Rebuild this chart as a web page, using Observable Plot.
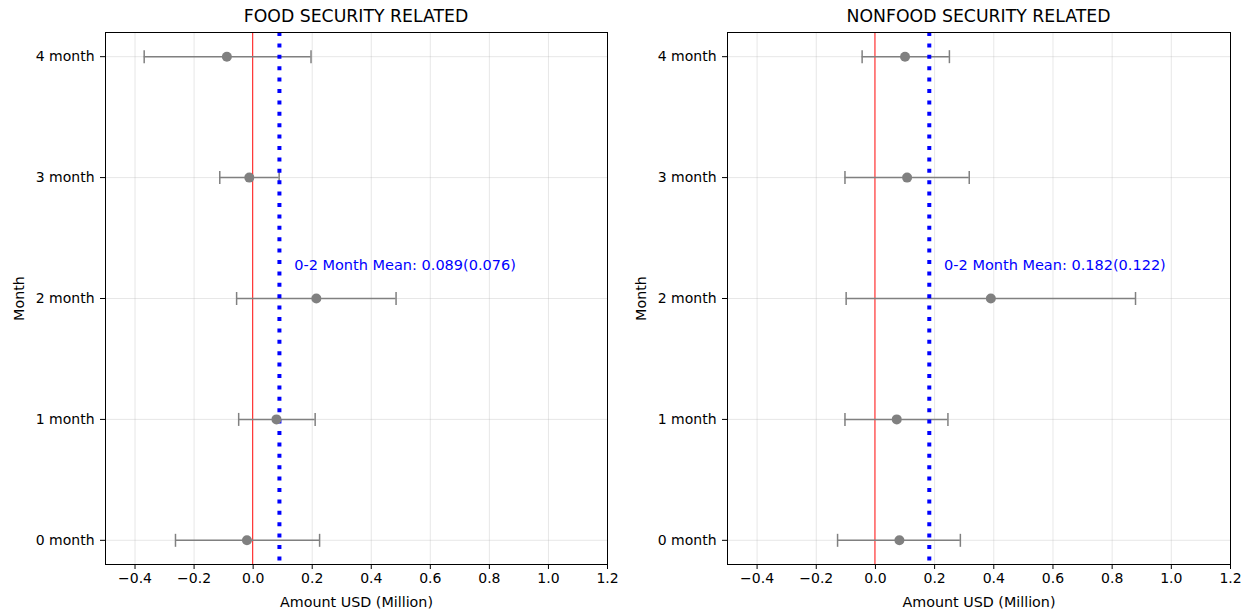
<!DOCTYPE html>
<html>
<head>
<meta charset="utf-8">
<script src="https://cdn.jsdelivr.net/npm/d3@7"></script>
<script src="https://cdn.jsdelivr.net/npm/@observablehq/plot@0.6"></script>
<style>
  body { margin: 0; background: #fff; font-family: "DejaVu Sans", sans-serif; }
  #wrap { display: flex; width: 1250px; height: 613px; overflow: hidden; }
  .panel { width: 625px; }
  .title { height: 28px; line-height: 33px; font-size: 17.3px; color: #000; text-align: center; white-space: nowrap; font-family: "DejaVu Sans"; }
</style>
</head>
<body>
<div id="wrap"></div>
<script>
// ---- data ----
const months = [0, 1, 2, 3, 4];
const monthLabels = ["0 month", "1 month", "2 month", "3 month", "4 month"];
const xTicks = [-0.4, -0.2, 0.0, 0.2, 0.4, 0.6, 0.8, 1.0, 1.2];

const foodEst = [-0.021, 0.079, 0.214, -0.013, -0.089];
const foodLo  = [-0.263, -0.049, -0.056, -0.113, -0.369];
const foodHi  = [0.225, 0.210, 0.484, 0.088, 0.196];

const nonfoodEst = [0.081, 0.072, 0.390, 0.107, 0.100];
const nonfoodLo  = [-0.128, -0.103, -0.099, -0.103, -0.045];
const nonfoodHi  = [0.287, 0.245, 0.879, 0.317, 0.250];

const panelTitles = ["FOOD SECURITY RELATED", "NONFOOD SECURITY RELATED"];
const meanValues = [0.089, 0.182];
const meanSEs = [0.076, 0.122];

// ---- drawing ----
const capSymbol = {
  draw(ctx, size) {
    const r = Math.sqrt(size / Math.PI);
    ctx.moveTo(0, -r);
    ctx.lineTo(0, r);
  }
};
const fmt = d3.format(".1f");

function panel(title, est, lo, hi, mean, se, marginLeft, marginRight) {
  const rows = months.map((m, i) => ({m, est: est[i], lo: lo[i], hi: hi[i]}));
  const div = document.createElement("div");
  div.className = "panel";
  const t = document.createElement("div");
  t.className = "title";
  t.style.paddingLeft = marginLeft + "px";
  t.style.paddingRight = marginRight + "px";
  t.textContent = title;
  div.appendChild(t);

  const chart = Plot.plot({
    width: 625,
    height: 585,
    marginTop: 4,
    marginBottom: 49,
    marginLeft,
    marginRight,
    style: {fontFamily: "DejaVu Sans", fontSize: "14px", color: "#000", background: "#fff"},
    x: {domain: [-0.5, 1.2]},
    y: {domain: [-0.2, 4.2]},
    marks: [
      Plot.gridX(xTicks.filter(d => d !== 0), {stroke: "#b0b0b0", strokeOpacity: 0.3, strokeWidth: 1}),
      Plot.gridY(months, {stroke: "#b0b0b0", strokeOpacity: 0.3, strokeWidth: 1}),
      Plot.axisX({ticks: xTicks, tickFormat: fmt, tickSize: 5, tickPadding: 4, fontSize: 14,
        label: null}),
      Plot.axisX({ticks: [], label: "Amount USD (Million)", labelAnchor: "center", labelOffset: 42,
        labelArrow: "none", fontSize: 14.3}),
      Plot.axisY({ticks: months, tickFormat: d => monthLabels[d], tickSize: 5, tickPadding: 6, fontSize: 14,
        label: null}),
      Plot.axisY({ticks: [], label: "Month", labelAnchor: "center", labelOffset: 92,
        labelArrow: "none", fontSize: 14.3}),
      Plot.ruleX([0], {stroke: "#ff3030", strokeWidth: 1.2, dx: -0.5}),
      Plot.ruleY(rows, {y: "m", x1: "lo", x2: "hi", stroke: "gray", strokeWidth: 1.5}),
      Plot.dot(rows, {x: "lo", y: "m", symbol: capSymbol, r: 6.5, stroke: "gray", strokeWidth: 1.5, fill: "none"}),
      Plot.dot(rows, {x: "hi", y: "m", symbol: capSymbol, r: 6.5, stroke: "gray", strokeWidth: 1.5, fill: "none"}),
      Plot.ruleX([mean], {stroke: "blue", strokeWidth: 4, strokeDasharray: "4,7.4"}),
      Plot.dot(rows, {x: "est", y: "m", r: 5, fill: "gray", stroke: "none"}),
      Plot.text([{x: mean + 0.05, y: 2.27, label: `0-2 Month Mean: ${mean.toFixed(3)}(${se.toFixed(3)})`}],
        {x: "x", y: "y", text: "label", textAnchor: "start", fill: "blue", fontSize: 14.5}),
      Plot.frame({stroke: "black", strokeWidth: 1})
    ]
  });
  div.appendChild(chart);
  return div;
}

const wrap = document.getElementById("wrap");
wrap.appendChild(panel(panelTitles[0], foodEst, foodLo, foodHi, meanValues[0], meanSEs[0], 105, 18));
wrap.appendChild(panel(panelTitles[1], nonfoodEst, nonfoodLo, nonfoodHi, meanValues[1], meanSEs[1], 102, 20));
</script>
</body>
</html>
